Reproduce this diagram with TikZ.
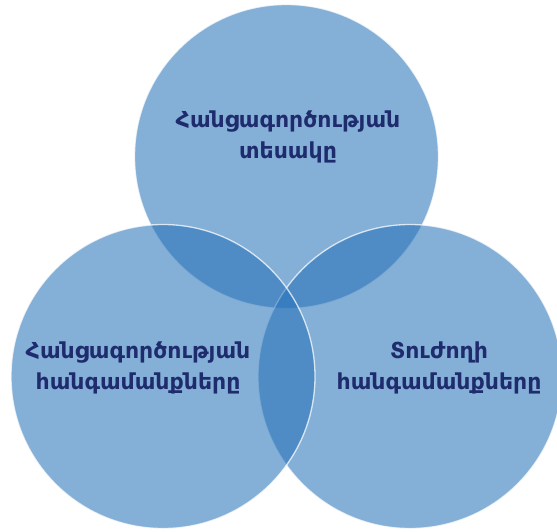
\documentclass[tikz,border=0pt]{standalone}
\usepackage{fontspec}
\setmainfont{DejaVu Sans}
\newfontfamily\armfont{DejaVu Sans}
\definecolor{vennblue}{RGB}{39,115,186}
\definecolor{navytext}{RGB}{30,44,110}
\begin{document}
\begin{tikzpicture}[x=1pt,y=-1pt,
  venn/.style={fill=vennblue,fill opacity=0.57,draw=white,draw opacity=0.75,line width=1.3pt},
  lbl/.style={text=navytext,font=\armfont\bfseries\fontsize{22}{31}\selectfont,align=center,inner sep=0pt}]
\useasboundingbox (0,0) rectangle (557,531);
\fill[white] (0,0) rectangle (557,531);
\path[venn] (286.5,156.5) circle[radius=152];
\path[venn] (410,376.5) circle[radius=152];
\path[venn] (163,376.5) circle[radius=152];
\node[lbl] (top) at (288,137) {Հանցագործության\\տեսակը};
\node[lbl] (left) at (138,368) {Հանցագործության\\հանգամանքները};
\node[lbl] (right) at (439,368) {Տուժողի\\հանգամանքները};
\end{tikzpicture}
\end{document}
